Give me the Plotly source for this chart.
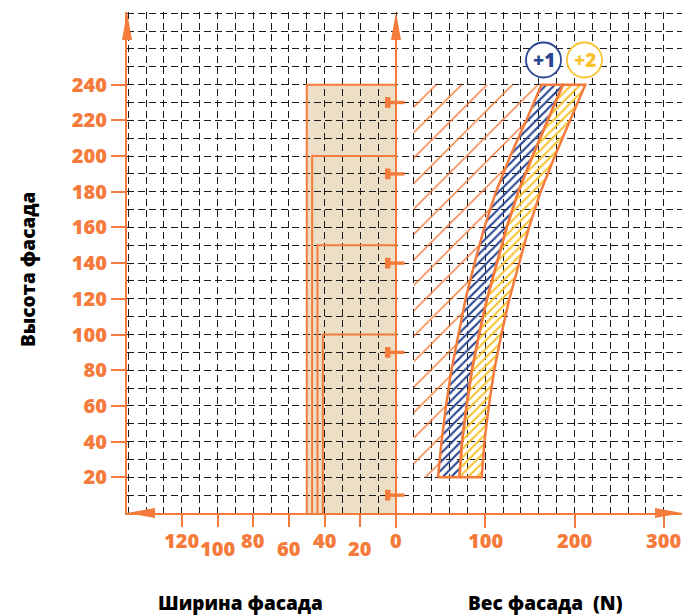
import plotly.graph_objects as go

# ---- colours and fonts ----
ORANGE = "#F47B3B"
NAVY = "#2A4592"
YELLOW = "#F8C231"
BEIGE = "#EDDFC5"
GRID = "#1A1A1A"
FONT = "Open Sans"

# ---- data ----
height_ticks = [20, 40, 60, 80, 100, 120, 140, 160, 180, 200, 220, 240]
width_ticks = [0, 20, 40, 60, 80, 100, 120]
weight_ticks = [0, 100, 200, 300]

# facade frames: width and height of each nested outline
frame_widths = [50, 47, 44, 41]
frame_heights = [240, 200, 150, 100]

# hinge positions along the facade height
hinge_heights = [10, 90, 140, 190, 230]

# weight limits (N) versus facade height
band_heights = [20, 40, 60, 80, 100, 120, 140, 160, 180, 200, 220, 240]
weight_base = [47, 51, 56, 62, 70, 78, 88, 99, 112, 128, 146, 163]
weight_plus1 = [71, 74, 79, 85, 93, 102, 113, 124, 137, 153, 170, 187]
weight_plus2 = [96, 99, 104, 110, 118, 127, 138, 149, 162, 178, 195, 212]
zone_min_weight = 20

band_labels = ["+1", "+2"]

# ---- page geometry ----
W, H = 690, 616
ML, MR, MT, MB = 127, 8, 12, 103
PW, PH = W - ML - MR, H - MT - MB
Y_RANGE = [0, 280.7]
WEIGHT_RANGE = [-301.4, 320.4]
WIDTH_RANGE = [150.7, -160.2]


def px_x(p):
    return (p - ML) / PW


def px_y(p):
    return (H - MB - p) / PH


def hatch(color, size, solidity):
    return dict(shape="/", fgcolor=color, fgopacity=1, bgcolor="rgba(255,255,255,0)",
                fillmode="replace", size=size, solidity=solidity)


fig = go.Figure()

# hatched admissible zone left of the base curve
zx = [zone_min_weight, zone_min_weight] + weight_base[::-1] + [zone_min_weight]
zy = [band_heights[0], band_heights[-1]] + band_heights[::-1] + [band_heights[0]]
fig.add_trace(go.Scatter(
    x=zx, y=zy, mode="lines", fill="toself", line=dict(width=0, color=ORANGE),
    fillcolor=ORANGE, fillpattern=hatch(ORANGE, 18, 0.08),
    hoverinfo="skip", showlegend=False))


def band(left, right, color):
    x = left + right[::-1] + [left[0]]
    y = band_heights + band_heights[::-1] + [band_heights[0]]
    fig.add_trace(go.Scatter(
        x=x, y=y, mode="lines", fill="toself",
        line=dict(width=2.5, color=ORANGE),
        fillcolor=color, fillpattern=hatch(color, 6, 0.36),
        hoverinfo="skip", showlegend=False))


band(weight_base, weight_plus1, NAVY)
band(weight_plus1, weight_plus2, YELLOW)

# nested facade outlines on the width axis
for w, h in zip(frame_widths, frame_heights):
    fig.add_trace(go.Scatter(
        x=[w, w, 0], y=[0, h, h], xaxis="x2", mode="lines",
        line=dict(width=2, color=ORANGE), hoverinfo="skip", showlegend=False))

shapes = []
# facade area fill (under the grid)
shapes.append(dict(type="rect", xref="x2", yref="y", x0=0, x1=max(frame_widths),
                   y0=0, y1=max(frame_heights), fillcolor=BEIGE,
                   line=dict(width=0), layer="below"))

# central axis line and arrow heads
shapes.append(dict(type="line", xref="paper", yref="paper",
                   x0=px_x(396), x1=px_x(396), y0=px_y(528), y1=px_y(38),
                   line=dict(color=ORANGE, width=2), layer="above"))


def tri(p1, p2, p3):
    return dict(type="path", xref="paper", yref="paper",
                path="M {} {} L {} {} L {} {} Z".format(
                    px_x(p1[0]), px_y(p1[1]), px_x(p2[0]), px_y(p2[1]),
                    px_x(p3[0]), px_y(p3[1])),
                fillcolor=ORANGE, line=dict(width=0), layer="above")


shapes.append(tri((127, 12), (122, 40), (132, 40)))
shapes.append(tri((396, 12), (391, 40), (401, 40)))
shapes.append(tri((127, 513), (155, 508), (155, 518)))
shapes.append(tri((682, 513), (655, 508), (655, 518)))

# hinges
for hh in hinge_heights:
    shapes.append(dict(type="rect", xref="paper", yref="y",
                       x0=px_x(385), x1=px_x(390.5), y0=hh - 3.0, y1=hh + 3.0,
                       fillcolor=ORANGE, line=dict(width=0), layer="above"))
    shapes.append(dict(type="rect", xref="paper", yref="y",
                       x0=px_x(389), x1=px_x(404.5), y0=hh - 0.95, y1=hh + 0.95,
                       fillcolor=ORANGE, line=dict(width=0), layer="above"))

# band label circles
label_centers = [(543.5, 60), (584.5, 60)]
label_colors = [NAVY, YELLOW]
annotations = []
for (cx, cy), col, txt in zip(label_centers, label_colors, band_labels):
    r = 17.5
    shapes.append(dict(type="circle", xref="paper", yref="paper",
                       x0=px_x(cx - r), x1=px_x(cx + r), y0=px_y(cy + r), y1=px_y(cy - r),
                       fillcolor="white", line=dict(color=col, width=1.8), layer="above"))
    annotations.append(dict(x=px_x(cx), y=px_y(cy), xref="paper", yref="paper",
                            text=txt, showarrow=False, xanchor="center", yanchor="middle",
                            font=dict(family=FONT, size=19, color=col, weight=800)))

# bottom tick labels (width labels staggered)
tick_font = dict(family=FONT, size=20, color=ORANGE, weight=800)
for i, v in enumerate(width_ticks[1:]):
    low = (len(width_ticks) - 2 - i) % 2 == 1
    annotations.append(dict(x=v, y=0, xref="x2", yref="y", text=str(v), showarrow=False,
                            xanchor="center", yanchor="middle",
                            yshift=-35 if low else -27, font=tick_font))
for v in weight_ticks:
    annotations.append(dict(x=v, y=0, xref="x", yref="y", text=str(v), showarrow=False,
                            xanchor="center", yanchor="middle", yshift=-27,
                            font=tick_font))

# axis titles
title_font = dict(family=FONT, size=19, color="black", weight=800)
annotations.append(dict(x=px_x(240), y=px_y(603), xref="paper", yref="paper",
                        text="Ширина фасада", showarrow=False, font=title_font,
                        xanchor="center", yanchor="middle"))
annotations.append(dict(x=px_x(545), y=px_y(603), xref="paper", yref="paper",
                        text="Вес фасада\u00a0 (N)", showarrow=False, font=title_font,
                        xanchor="center", yanchor="middle"))
annotations.append(dict(x=px_x(28), y=px_y(270), xref="paper", yref="paper",
                        text="Высота фасада", showarrow=False, font=title_font,
                        textangle=-90, xanchor="center", yanchor="middle"))

grid_style = dict(showgrid=True, gridcolor=GRID, gridwidth=1, griddash="7px,4px")

fig.update_layout(
    width=W, height=H, autosize=False,
    margin=dict(l=ML, r=MR, t=MT, b=MB, pad=0),
    paper_bgcolor="white", plot_bgcolor="white",
    showlegend=False,
    shapes=shapes, annotations=annotations,
    xaxis=dict(range=WEIGHT_RANGE, tickvals=weight_ticks, ticks="outside", ticklen=13,
               tickwidth=2, tickcolor=ORANGE, showticklabels=False,
               showline=True, linecolor=ORANGE, linewidth=2, zeroline=False,
               minor=dict(tick0=0, dtick=20, ticks="", **grid_style),
               **grid_style),
    xaxis2=dict(range=WIDTH_RANGE, overlaying="x", anchor="y", side="bottom",
                tickvals=width_ticks[1:], ticks="outside", ticklen=13, tickwidth=2,
                tickcolor=ORANGE, showticklabels=False, showgrid=False,
                showline=False, zeroline=False),
    yaxis=dict(range=Y_RANGE, tickvals=height_ticks, ticks="outside", ticklen=14,
               tickwidth=2, tickcolor=ORANGE, tickfont=tick_font,
               showline=True, linecolor=ORANGE, linewidth=2, zeroline=False,
               minor=dict(tick0=0, dtick=10, ticks="", **grid_style),
               **grid_style),
)

fig.write_html("out.html")
